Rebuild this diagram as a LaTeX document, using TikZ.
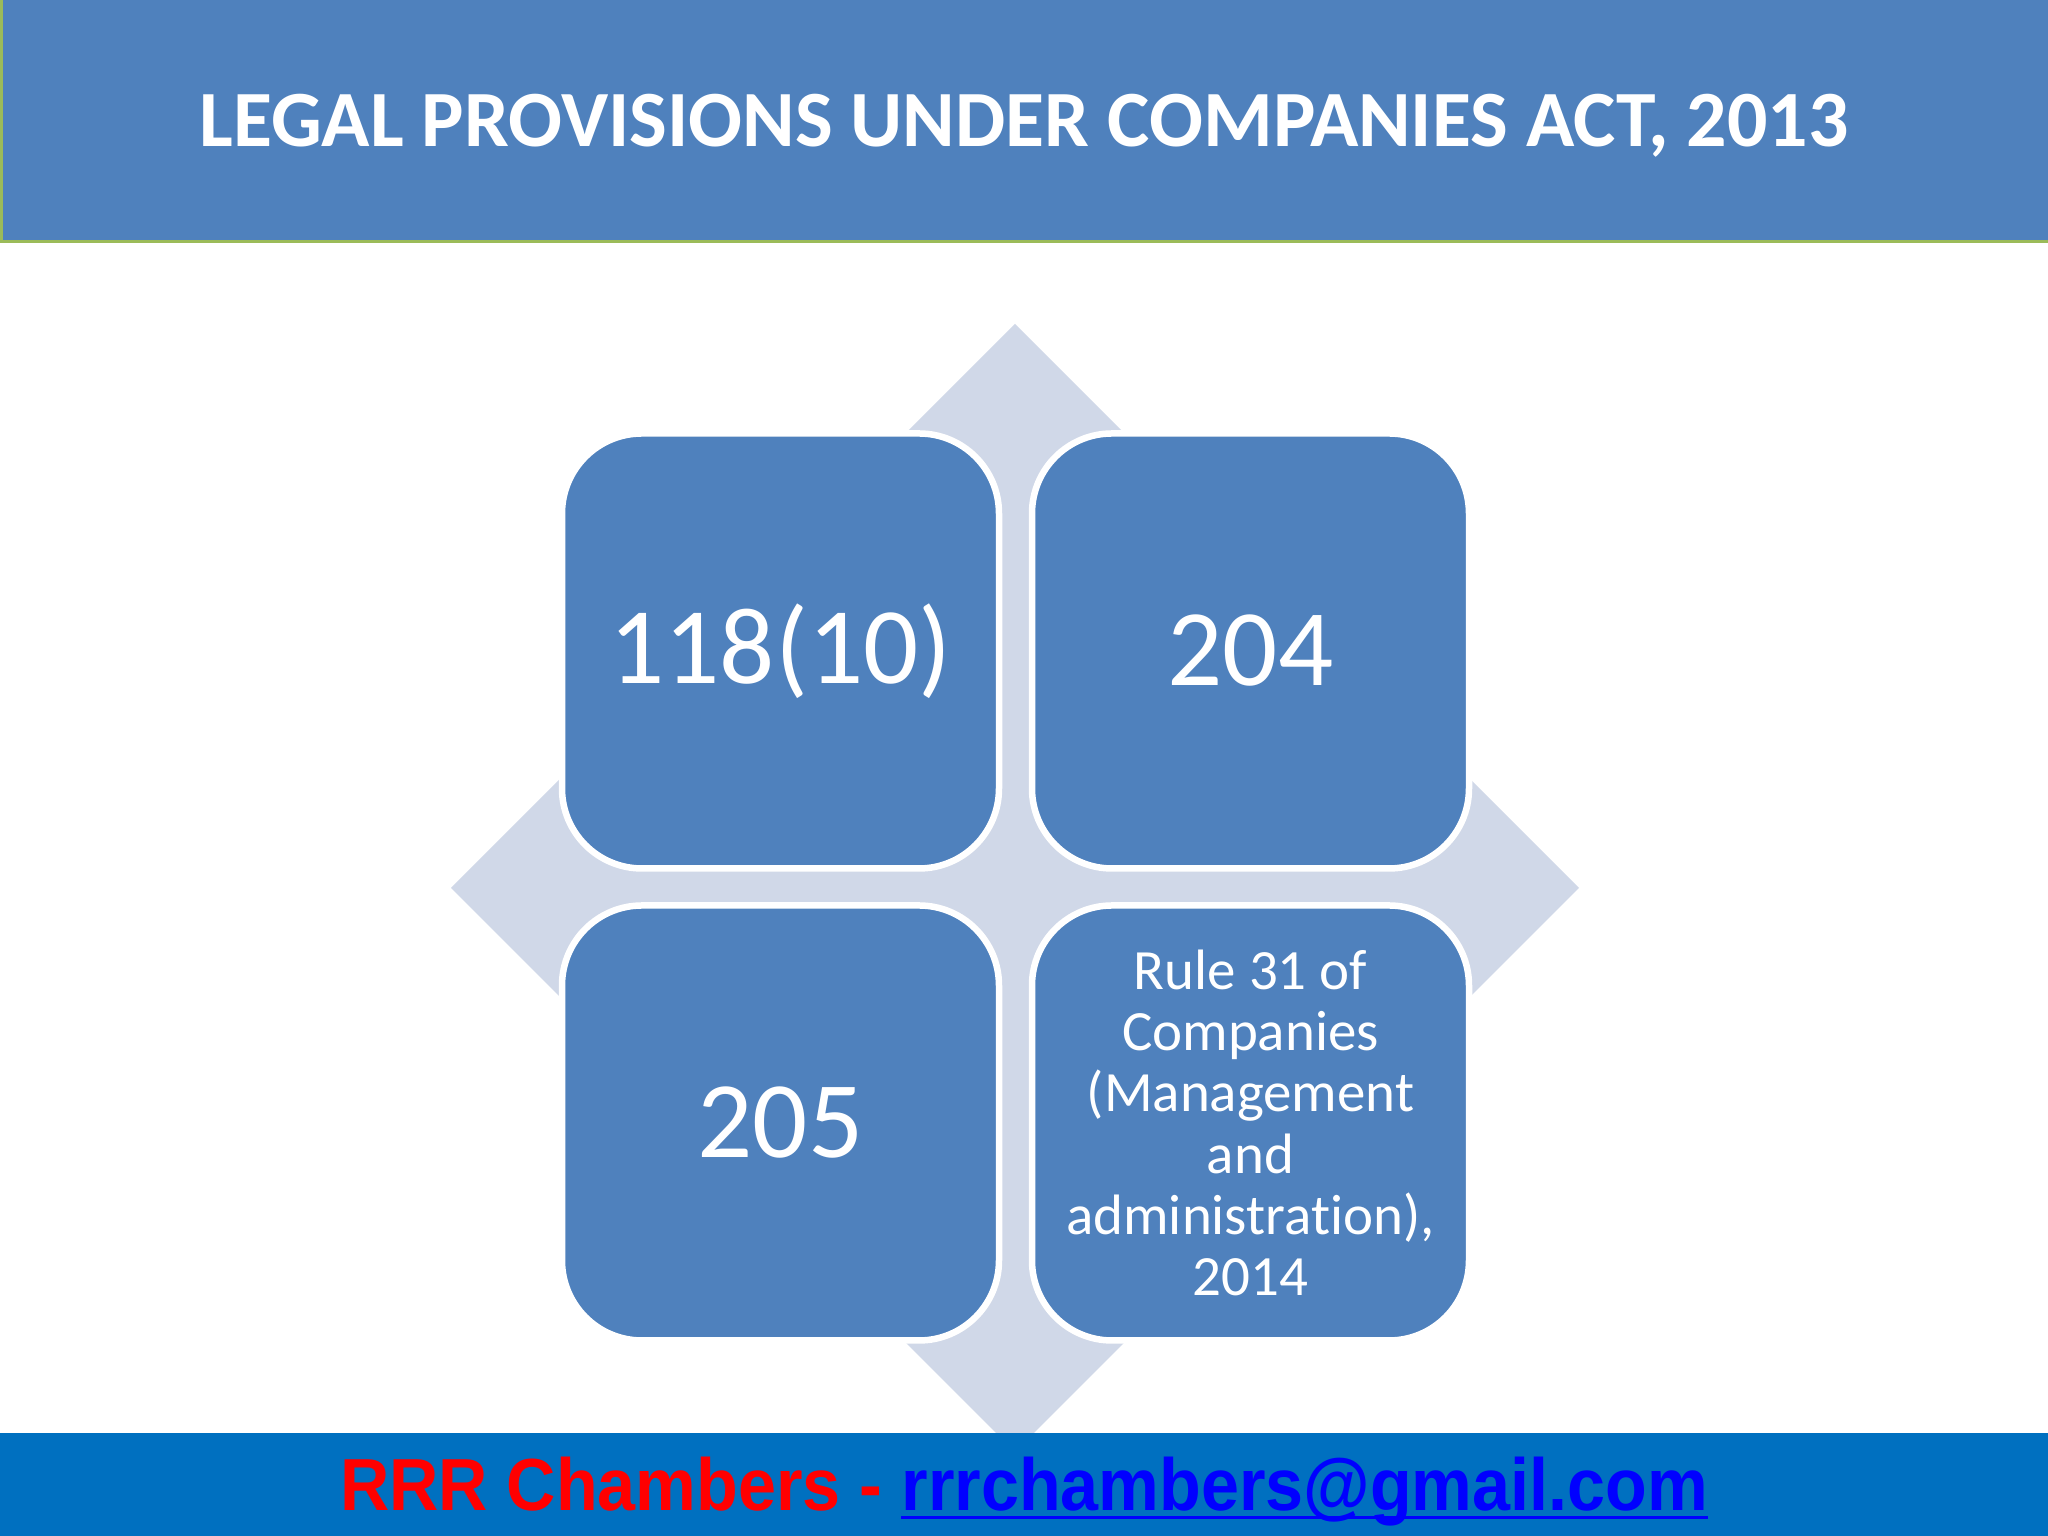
\documentclass[tikz,border=0pt]{standalone}
\usepackage{fontspec}
\setmainfont[Ligatures=NoCommon]{Carlito}
\newfontfamily\footfont{Liberation Sans}
\usepackage{xcolor}
\definecolor{boxblue}{HTML}{4F81BD}
\definecolor{pale}{HTML}{D0D8E8}
\definecolor{barblue}{HTML}{0070C0}
\definecolor{edgegreen}{HTML}{9BBB59}
\definecolor{linkblue}{HTML}{0000FF}
\newsavebox{\mailbox}
\newcommand{\mailunder}[1]{\sbox{\mailbox}{#1}\rlap{\rule[-2.2pt]{\wd\mailbox}{0.8pt}}\usebox{\mailbox}}
\tikzset{provbox/.style={rectangle, rounded corners=0.8cm, fill=boxblue,
  draw=white, line width=0.065cm, minimum width=4.37cm, minimum height=4.35cm,
  text=white, inner sep=0pt}}
\tikzset{bignum/.style={font=\fontsize{31}{37}\selectfont}}
\tikzset{ruletext/.style={font=\fontsize{16.2}{17.4}\selectfont, align=center}}

\begin{document}
\begin{tikzpicture}

\useasboundingbox (0,0) rectangle (20.48,15.36);
\fill[white] (0,0) rectangle (20.48,15.36);

% header
\draw[fill=boxblue, draw=edgegreen, line width=0.03cm] (0.015,12.94) rectangle (20.5,15.4);
\node (title) at (10.24,14.10) [text=white, font=\fontsize{22.7}{27}\selectfont\bfseries] {LEGAL PROVISIONS UNDER COMPANIES ACT, 2013};

% diamond behind the boxes
\fill[pale] (10.15,12.12) -- (15.79,6.48) -- (10.15,0.84) -- (4.51,6.48) -- cycle;

\node (s118) at (7.805,8.85) [provbox, bignum] {118(10)};
\node (s204) at (12.505,8.85) [provbox, bignum] {204};
\node (s205) at (7.805,4.13) [provbox, bignum] {205};
\node (rule) at (12.505,4.13) [provbox, ruletext] {Rule 31 of\\Companies\\(Management\\and\\administration),\\2014};

% footer
\fill[barblue] (0,0) rectangle (20.48,1.03);
\node (foot) at (10.24,0.25) [anchor=base, xscale=0.925, font=\footfont\fontsize{21}{25}\selectfont\bfseries] {\textcolor{red}{RRR Chambers -} \textcolor{linkblue}{\mailunder{rrrchambers@gmail.com}}};
\end{tikzpicture}
\end{document}
